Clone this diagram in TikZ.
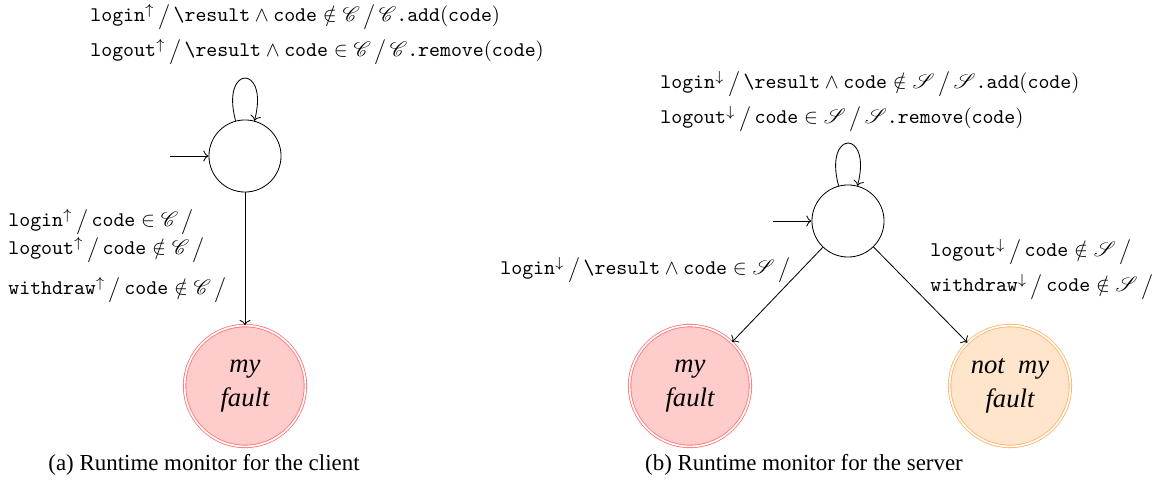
\documentclass[tikz,border=0pt]{standalone}
\usepackage{amsmath}
\usepackage{mathrsfs}
\usepackage[no-math]{fontspec}
\setmainfont{Liberation Serif}
\usetikzlibrary{arrows.meta}
\newcommand{\myC}{\mathscr{C}}
\newcommand{\myS}{\mathscr{S}}
\newcommand{\tw}[1]{\texttt{#1}}
\newcommand{\rs}{\tw{\textbackslash result}}
\newcommand{\sepr}{\mskip3mu\big/\mskip3mu}
\begin{document}
\begin{tikzpicture}[x=0.48pt,y=-0.48pt,
  lbl/.style={inner sep=0pt, anchor=base west},
  captxt/.style={inner sep=0pt, anchor=base, font=\fontsize{11}{13}\selectfont},
  stt/.style={circle, draw, minimum size=34.6pt, inner sep=0pt},
  fault/.style={circle, double=white, double distance=0.8pt, line width=0.4pt,
    minimum size=58pt, inner sep=0pt, align=center, font=\fontsize{12.8}{16.5}\selectfont\itshape},
  myfault/.style={fault, draw=red!55, fill=red!20},
  notfault/.style={fault, draw=orange!60, fill=orange!20},
  tr/.style={-{To}, line width=0.4pt}]
\useasboundingbox (0,0) rectangle (1154,488);
% ---------- (a) client ----------
\node[lbl] (ta1) at (90,22) {$\tw{login}^{\uparrow}\sepr\rs\wedge\tw{code}\notin\myC\sepr\myC\tw{.add}(\tw{code})$};
\node[lbl] (ta2) at (90,57) {$\tw{logout}^{\uparrow}\sepr\rs\wedge\tw{code}\in\myC\sepr\myC\tw{.remove}(\tw{code})$};
\node[stt] (c0) at (245,156) {};
\coordinate (ci) at (170,156);
\node[myfault] (cf) at (245,386) {my\\fault};
\draw[tr] (ci) -- (c0);
\draw[tr] (c0) to[loop above] (c0);
\draw[tr] (c0) -- (cf);
\node[lbl] (ea1) at (8,227) {$\tw{login}^{\uparrow}\sepr\tw{code}\in\myC\sepr$};
\node[lbl] (ea2) at (8,255) {$\tw{logout}^{\uparrow}\sepr\tw{code}\notin\myC\sepr$};
\node[lbl] (ea3) at (8,295) {$\tw{withdraw}^{\uparrow}\sepr\tw{code}\notin\myC\sepr$};
\node[captxt] (capa) at (204,471) {(a) Runtime monitor for the client};
% ---------- (b) server ----------
\node[lbl] (tb1) at (660,89) {$\tw{login}^{\downarrow}\sepr\rs\wedge\tw{code}\notin\myS\sepr\myS\tw{.add}(\tw{code})$};
\node[lbl] (tb2) at (660,124) {$\tw{logout}^{\downarrow}\sepr\tw{code}\in\myS\sepr\myS\tw{.remove}(\tw{code})$};
\node[stt] (s0) at (848,221) {};
\coordinate (si) at (773,221);
\node[myfault] (sf1) at (690,386) {my\\fault};
\node[notfault] (sf2) at (1010,386) {not\ \ my\\fault};
\draw[tr] (si) -- (s0);
\draw[tr] (s0) to[loop above] (s0);
\draw[tr] (s0) -- (sf1);
\draw[tr] (s0) -- (sf2);
\node[lbl] (eb1) at (500,275) {$\tw{login}^{\downarrow}\sepr\rs\wedge\tw{code}\in\myS\sepr$};
\node[lbl] (eb2) at (930,257) {$\tw{logout}^{\downarrow}\sepr\tw{code}\notin\myS\sepr$};
\node[lbl] (eb3) at (930,292) {$\tw{withdraw}^{\downarrow}\sepr\tw{code}\notin\myS\sepr$};
\node[captxt] (capb) at (804,471) {(b) Runtime monitor for the server};
\end{tikzpicture}
\end{document}
